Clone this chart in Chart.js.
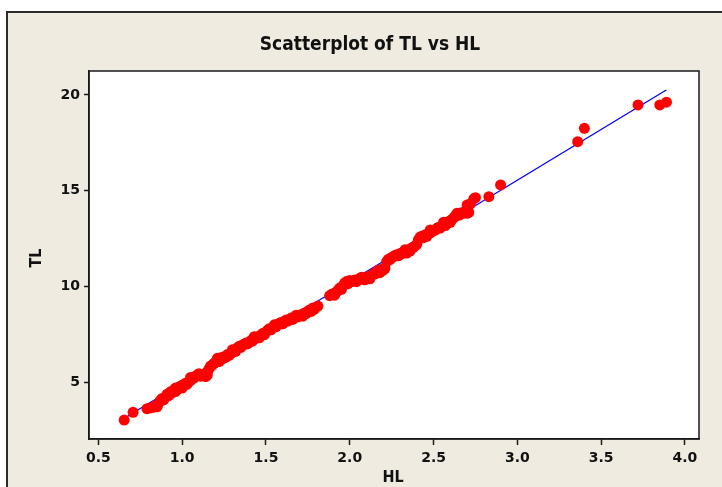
<!DOCTYPE html>
<html>
<head>
<meta charset="utf-8">
<script src="https://cdn.jsdelivr.net/npm/chart.js@4/dist/chart.umd.min.js"></script>
<style>
    html, body { margin: 0; padding: 0; background: #ffffff; }
    #wrap { width: 722px; height: 487px; }
</style>
</head>
<body>
<div id="wrap"><canvas id="chart" width="722" height="487"></canvas></div>
<script>
/* Scatterplot of TL vs HL - Minitab style, red points + blue fitted line */

// ─── Data ────────────────────────────────────────────────────────────
const hlValues = [
    0.654, 0.707, 0.79, 0.81, 0.83, 0.84, 0.86, 0.87, 0.88, 0.90,
    0.91, 0.93, 0.94, 0.95, 0.97, 0.98, 0.99, 1.00, 1.01, 1.02,
    1.04, 1.05, 1.06, 1.08, 1.09, 1.10, 1.12, 1.13, 1.15, 1.15,
    1.16, 1.17, 1.19, 1.20, 1.21, 1.22, 1.24, 1.25, 1.26, 1.27,
    1.29, 1.30, 1.31, 1.32, 1.33, 1.34, 1.36, 1.37, 1.38, 1.40,
    1.41, 1.43, 1.44, 1.45, 1.47, 1.48, 1.50, 1.51, 1.52, 1.54,
    1.55, 1.57, 1.58, 1.59, 1.61, 1.62, 1.64, 1.65, 1.67, 1.69,
    1.70, 1.71, 1.73, 1.75, 1.76, 1.78, 1.81, 1.88, 1.89, 1.90,
    1.92, 1.93, 1.94, 1.96, 1.97, 1.98, 2.00, 2.02, 2.03, 2.05,
    2.06, 2.08, 2.10, 2.11, 2.13, 2.14, 2.16, 2.17, 2.19, 2.21,
    2.22, 2.23, 2.25, 2.27, 2.28, 2.30, 2.32, 2.33, 2.35, 2.37,
    2.39, 2.40, 2.41, 2.42, 2.43, 2.45, 2.47, 2.48, 2.50, 2.52,
    2.53, 2.55, 2.56, 2.58, 2.59, 2.61, 2.62, 2.63, 2.64, 2.66,
    2.68, 2.70, 2.71, 2.70, 2.72, 2.74, 2.75, 2.83, 2.90, 3.36,
    3.40, 3.72, 3.85, 3.89,
    0.85, 0.89, 0.92, 0.96, 1.00, 1.03, 1.07, 1.11, 1.14, 1.18,
    1.23, 1.28, 1.32, 1.35, 1.39, 1.42, 1.46, 1.49, 1.53, 1.56,
    1.60, 1.63, 1.66, 1.72, 1.74, 1.77, 1.79, 1.91, 1.95, 1.99,
    2.04, 2.09, 2.12, 2.15, 2.18, 2.20, 2.24, 2.26, 2.29, 2.31,
    2.34, 2.36, 2.38, 2.44, 2.46, 2.49, 2.51, 2.54, 2.57, 2.60,
    2.65, 2.67,
    0.96, 1.05, 1.21, 1.30, 1.43, 1.55, 1.68, 1.94, 2.07, 2.33,
    2.48, 2.56
];
const tlValues = [
    3.03, 3.43, 3.62, 3.66, 3.70, 3.78, 3.90, 4.05, 4.16, 4.22,
    4.38, 4.50, 4.45, 4.58, 4.62, 4.75, 4.80, 4.70, 4.88, 4.95,
    5.03, 5.10, 5.20, 5.32, 5.38, 5.45, 5.40, 5.36, 5.38, 5.55,
    5.70, 5.85, 5.99, 6.05, 6.15, 6.08, 6.22, 6.34, 6.30, 6.45,
    6.50, 6.58, 6.62, 6.72, 6.80, 6.88, 6.95, 6.98, 7.05, 7.08,
    7.18, 7.25, 7.30, 7.38, 7.45, 7.55, 7.62, 7.72, 7.80, 7.86,
    7.92, 8.02, 8.08, 8.12, 8.18, 8.25, 8.28, 8.35, 8.38, 8.42,
    8.50, 8.52, 8.62, 8.70, 8.78, 8.88, 8.98, 9.52, 9.58, 9.62,
    9.72, 9.80, 9.88, 10.05, 10.18, 10.26, 10.32, 10.28, 10.34, 10.36,
    10.42, 10.38, 10.45, 10.52, 10.58, 10.66, 10.77, 10.85, 10.90, 10.95,
    11.30, 11.42, 11.52, 11.62, 11.66, 11.72, 11.80, 11.84, 11.92, 12.02,
    12.12, 12.20, 12.45, 12.58, 12.62, 12.70, 12.76, 12.80, 12.92, 13.04,
    13.10, 13.16, 13.24, 13.30, 13.40, 13.50, 13.58, 13.70, 13.82, 13.84,
    13.88, 13.82, 13.87, 14.25, 14.32, 14.58, 14.64, 14.69, 15.30, 17.56,
    18.26, 19.48, 19.48, 19.62,
    3.72, 4.08, 4.30, 4.52, 4.85, 4.90, 5.22, 5.32, 5.30, 5.90,
    6.28, 6.40, 6.62, 6.82, 7.00, 7.15, 7.32, 7.48, 7.74, 7.90,
    8.05, 8.20, 8.28, 8.45, 8.58, 8.70, 8.82, 9.55, 9.85, 10.15,
    10.25, 10.35, 10.40, 10.65, 10.72, 10.85, 11.40, 11.55, 11.60, 11.70,
    11.75, 11.85, 12.05, 12.55, 12.62, 12.85, 12.95, 13.05, 13.18, 13.35,
    13.72, 13.80,
    4.70, 5.25, 6.25, 6.70, 7.38, 8.00, 8.50, 9.92, 10.48, 11.92,
    12.95, 13.36
];

// fitted line end points
const fitHL = [0.654, 3.889];
const fitTL = [3.12, 20.26];

const xTicks = [0.5, 1.0, 1.5, 2.0, 2.5, 3.0, 3.5, 4.0];
const xTickLabels = ['0.5', '1.0', '1.5', '2.0', '2.5', '3.0', '3.5', '4.0'];
const yTicks = [5, 10, 15, 20];
const yTickLabels = ['5', '10', '15', '20'];

const chartTitle = 'Scatterplot of TL vs HL';
const xTitle = 'HL';
const yTitle = 'TL';

// ─── Frame / titles plugin ───────────────────────────────────────────
const framePlugin = {
    id: 'frame',
    beforeDraw(chart) {
        const ctx = chart.ctx;
        ctx.save();
        ctx.fillStyle = '#ffffff';
        ctx.fillRect(0, 0, chart.width, chart.height);
        ctx.fillStyle = '#efebe1';
        ctx.fillRect(7, 12, chart.width - 7, chart.height - 12);
        ctx.strokeStyle = '#2b2b2b';
        ctx.lineWidth = 2;
        ctx.beginPath();
        ctx.moveTo(7, chart.height);
        ctx.lineTo(7, 12);
        ctx.lineTo(chart.width, 12);
        ctx.stroke();
        // plot area
        const a = chart.chartArea;
        ctx.fillStyle = '#ffffff';
        ctx.fillRect(a.left, a.top, a.right - a.left, a.bottom - a.top);
        ctx.restore();
    },
    afterDraw(chart) {
        const ctx = chart.ctx;
        const a = chart.chartArea;
        ctx.save();
        ctx.strokeStyle = '#1a1a1a';
        ctx.lineWidth = 1.5;
        ctx.strokeRect(a.left, a.top, a.right - a.left, a.bottom - a.top);

        ctx.fillStyle = '#111111';
        ctx.textAlign = 'center';
        ctx.textBaseline = 'middle';
        ctx.font = 'bold 19px "Liberation Sans Narrow", "DejaVu Sans Condensed", Arial, sans-serif';
        ctx.fillText(chartTitle, 370, 45);

        ctx.font = 'bold 16px "Liberation Sans Narrow", "DejaVu Sans Condensed", Arial, sans-serif';
        ctx.fillText(xTitle, 393, 478);
        ctx.translate(37, 258);
        ctx.rotate(-Math.PI / 2);
        ctx.fillText(yTitle, 0, 0);
        ctx.restore();
    }
};

// ─── Chart ───────────────────────────────────────────────────────────
const points = hlValues.map((x, i) => ({ x: x, y: tlValues[i] }));
const fitLine = fitHL.map((x, i) => ({ x: x, y: fitTL[i] }));

const tickFont = { family: '"DejaVu Sans", Verdana, sans-serif', size: 14, weight: 'bold' };

new Chart(document.getElementById('chart'), {
    type: 'scatter',
    data: {
        datasets: [
            {
                label: 'TL',
                data: points,
                backgroundColor: '#ff0000',
                borderColor: '#ff0000',
                borderWidth: 0,
                pointRadius: 5.5,
                pointHoverRadius: 5.5
            },
            {
                label: 'Fit',
                data: fitLine,
                showLine: true,
                borderColor: '#0000ff',
                borderWidth: 1.3,
                pointRadius: 0,
                fill: false
            }
        ]
    },
    options: {
        responsive: false,
        animation: false,
        devicePixelRatio: 1,
        layout: { padding: { left: 0, top: 71, right: 23, bottom: 0 } },
        plugins: {
            legend: { display: false },
            tooltip: { enabled: false },
            title: { display: false }
        },
        scales: {
            x: {
                type: 'linear',
                min: 0.444,
                max: 4.084,
                afterBuildTicks: s => { s.ticks = xTicks.map(v => ({ value: v })); },
                afterFit: s => { s.height = 48; },
                grid: { drawOnChartArea: false, tickLength: 6, tickColor: '#1a1a1a', tickWidth: 1.5 },
                border: { color: '#1a1a1a', width: 1.5 },
                ticks: {
                    color: '#111111',
                    font: tickFont,
                    padding: 5,
                    maxRotation: 0,
                    callback: (v, i) => xTickLabels[i]
                }
            },
            y: {
                type: 'linear',
                min: 2.04,
                max: 21.25,
                afterBuildTicks: s => { s.ticks = yTicks.map(v => ({ value: v })); },
                afterFit: s => { s.width = 89; },
                grid: { drawOnChartArea: false, tickLength: 5, tickColor: '#1a1a1a', tickWidth: 1.5 },
                border: { color: '#1a1a1a', width: 1.5 },
                ticks: {
                    color: '#111111',
                    font: tickFont,
                    padding: 4,
                    callback: (v, i) => yTickLabels[i]
                }
            }
        }
    },
    plugins: [framePlugin]
});
</script>
</body>
</html>
